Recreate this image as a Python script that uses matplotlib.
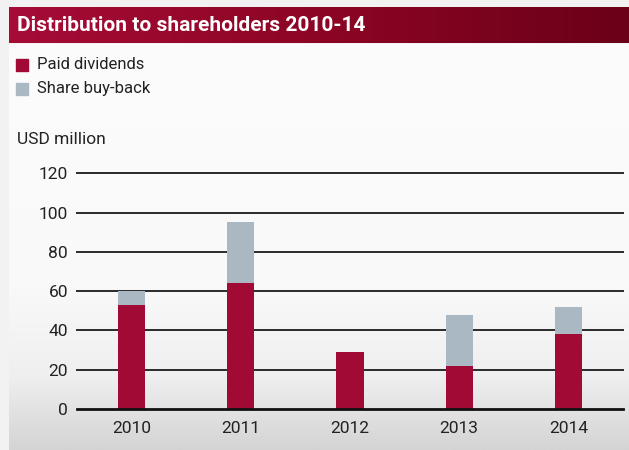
import numpy as np
import matplotlib
matplotlib.use("Agg")
import matplotlib.pyplot as plt
from matplotlib.patches import Rectangle
from matplotlib.colors import LinearSegmentedColormap

years = ["2010", "2011", "2012", "2013", "2014"]
dividends = [53, 64, 29, 22, 38]
buyback = [7, 31, 0, 26, 14]
yticks = [0, 20, 40, 60, 80, 100, 120]

red = "#a10a35"
grey = "#aab8c4"
ink = "#222222"

plt.rcParams["font.family"] = ["Roboto", "DejaVu Sans"]

W, H = 629, 450
fig = plt.figure(figsize=(W / 100, H / 100), dpi=100)
fig.patch.set_facecolor("#f2f2f2")

def px(x0, y0, x1, y1):
    # pixel box (top-left origin) -> figure fraction rect
    return [x0 / W, 1 - y1 / H, (x1 - x0) / W, (y1 - y0) / H]

# background panel, white fading to grey at the bottom
bg = fig.add_axes(px(9, 44, W, H))
bg.set_axis_off()
panel = LinearSegmentedColormap.from_list(
    "panel", [(0, "#fcfcfc"), (0.6, "#f9f9f9"), (0.82, "#efefef"), (1, "#d4d4d4")])
bg.imshow(np.linspace(0, 1, 256)[:, None], aspect="auto", cmap=panel,
          extent=[0, 1, 0, 1], origin="upper")

# title banner
ban = fig.add_axes(px(9, 7, W, 43.5))
ban.set_axis_off()
banner = LinearSegmentedColormap.from_list(
    "banner", ["#a60c37", "#8d0524", "#6b0019"])
ban.imshow(np.linspace(0, 1, 256)[None, :], aspect="auto", cmap=banner,
           extent=[0, 1, 0, 1])
fig.text(17 / W, 1 - 25.5 / H, "Distribution to shareholders 2010-14",
         color="white", fontsize=15, fontweight="bold",
         va="center", ha="left")

# legend
for i, (lab, c) in enumerate([("Paid dividends", red), ("Share buy-back", grey)]):
    yc = 64.5 + i * 24
    fig.patches.append(Rectangle((16 / W, 1 - (yc + 6) / H), 12 / W, 12 / H,
                                 transform=fig.transFigure, color=c))
    fig.text(37 / W, 1 - yc / H, lab, fontsize=12, color=ink,
             va="center", ha="left")

fig.text(17 / W, 1 - 140 / H, "USD million", fontsize=12.5, color=ink,
         va="center", ha="left")

ax = fig.add_axes(px(77, 173.3, 623, 409))
ax.set_facecolor("none")
x = np.arange(len(years))
ax.bar(x, dividends, width=0.25, color=red, zorder=3)
ax.bar(x, buyback, width=0.25, bottom=dividends, color=grey, zorder=3)

ax.set_xlim(-0.5, 4.5)
ax.set_ylim(0, 120)
ax.set_yticks(yticks)
ax.set_xticks(x)
ax.set_xticklabels(years)
for y in yticks:
    ax.axhline(y, color="#111111" if y == 0 else "#2a2a2a",
               lw=2 if y == 0 else 1.4, zorder=2 if y else 4, clip_on=False)
for s in ax.spines.values():
    s.set_visible(False)
ax.tick_params(length=0, labelsize=12.5, colors=ink)
ax.tick_params(axis="y", pad=6.5)
ax.tick_params(axis="x", pad=8.5)

fig.savefig("out.png", dpi=100)
